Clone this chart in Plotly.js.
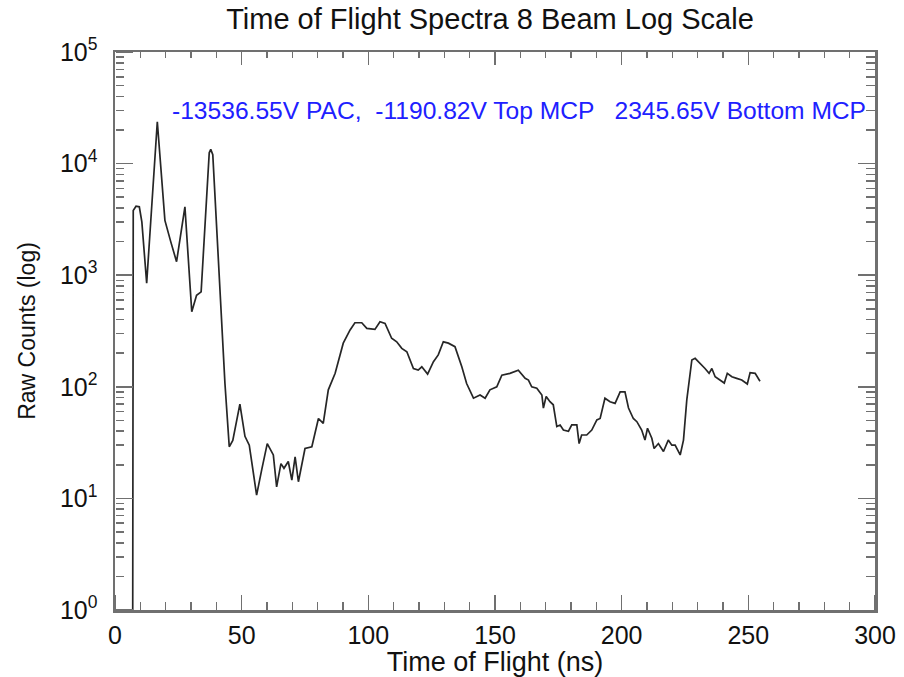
<!DOCTYPE html>
<html>
<head>
<meta charset="utf-8">
<script src="https://cdn.plot.ly/plotly-3.0.1.min.js"></script>
<style>html,body{margin:0;padding:0;background:#fff;}#chart{width:904px;height:677px;}</style>
</head>
<body>
<div id="chart"></div>
<script>
// Time of flight (ns)
const tof = [7.0, 7.2, 8.3, 9.6, 10.6, 12.5, 16.7, 19.7, 22.0, 24.3, 27.6, 30.3, 32.2, 34.0, 37.2, 37.8, 38.6, 42.1, 43.4, 45.1,
  46.5, 49.3, 51.3, 53.0, 55.9, 57.9, 60.1, 62.5, 63.8, 65.5, 66.7, 68.4, 69.8, 71.1, 72.4, 75.0, 77.7, 80.3, 82.2, 84.2,
  86.9, 90.1, 92.8, 94.7, 97.4, 99.4, 102.6, 104.6, 106.6, 109.2, 111.2, 113.2, 115.2, 117.8, 119.7, 121.1, 123.4, 125.7, 127.6, 129.6,
  131.6, 134.2, 136.9, 138.8, 141.5, 144.1, 146.1, 148.0, 150.7, 152.7, 155.9, 159.2, 161.9, 163.2, 164.5, 166.5, 168.5, 169.1, 170.2, 171.7,
  173.0, 174.4, 175.7, 177.0, 179.0, 180.3, 182.3, 183.2, 184.2, 186.2, 188.2, 190.2, 191.5, 193.4, 195.4, 197.4, 199.4, 201.3, 202.7, 204.6,
  206.0, 207.9, 209.2, 210.2, 211.9, 212.8, 214.5, 216.5, 218.4, 219.8, 221.1, 223.1, 224.4, 225.7, 227.7, 229.0, 231.0, 232.9, 234.5, 235.6,
  236.9, 238.9, 240.5, 241.7, 243.5, 245.4, 247.4, 249.6, 250.7, 252.7, 254.6];
// Raw counts
const counts = [1, 3800, 4150, 4100, 3000, 850, 23700, 3100, 2000, 1320, 4100, 470, 660, 710, 12500, 13400, 12000, 320, 107, 29,
  33, 70, 36, 30, 10.7, 18, 31, 24.5, 12.7, 20.5, 18.6, 21.4, 14.6, 23.6, 14.1, 28, 29, 52, 47, 94,
  132, 246, 323, 375, 375, 334, 327, 383, 370, 272, 253, 221, 206, 146, 141, 151, 130, 168, 193, 253,
  246, 229, 151, 107, 79, 84.5, 79, 94, 100, 127, 132, 141, 119, 115, 100, 97, 84.5, 64.5, 82, 73.5,
  69, 44, 45.5, 41, 40, 45.5, 45.5, 31, 37, 37, 41, 50.5, 52, 79, 73.5, 71, 90, 90, 64.5, 52,
  48.7, 41, 33.3, 42.5, 34.6, 28, 31, 26.3, 33.3, 30, 30, 24.5, 33.3, 76, 174, 180, 163, 146, 132, 146,
  123, 115, 108, 132, 123, 119, 115, 106, 134, 132, 112];

const xRange = [0, 300];
const yDecades = [0, 1, 2, 3, 4, 5];
const yTickVals = yDecades.map(d => Math.pow(10, d));
const yTickText = yDecades.map(d => '10<sup>' + d + '</sup>');
const titleText = 'Time of Flight Spectra 8 Beam Log Scale';
const noteText = '-13536.55V PAC,  -1190.82V Top MCP   2345.65V Bottom MCP';
const xTitle = 'Time of Flight (ns)';
const yTitle = 'Raw Counts (log)';

// minor tick positions on the log axis (2..9 within each decade)
const yMinorVals = [];
yDecades.slice(0, -1).forEach(d => { for (let m = 2; m <= 9; m++) yMinorVals.push(m * Math.pow(10, d)); });

const font = 'Liberation Sans, Arial, Helvetica, sans-serif';
const axisColor = '#707070';
const txtColor = '#111';

const base = {x: tof, y: counts, type: 'scatter', mode: 'lines', hoverinfo: 'skip', showlegend: false};
const traces = [Object.assign({}, base, {line: {color: '#262626', width: 1.7}})];
for (let i = 2; i <= 5; i++) {
  traces.push(Object.assign({}, base, {xaxis: 'x' + i, yaxis: 'y' + i, opacity: 0, line: {width: 0}}));
}

const commonX = {range: xRange, showgrid: false, zeroline: false, tickcolor: axisColor, tickwidth: 1.5, showticklabels: false, overlaying: 'x', tick0: 0};
const commonY = {type: 'log', range: [0, 5], showgrid: false, zeroline: false, tickcolor: axisColor, tickwidth: 1.5, showticklabels: false, overlaying: 'y', tickmode: 'array'};

const layout = {
  width: 904, height: 677,
  margin: {l: 115, r: 29, t: 52, b: 67},
  paper_bgcolor: '#fff', plot_bgcolor: '#fff',
  showlegend: false,
  font: {family: font, color: txtColor},
  title: {text: titleText, x: 0.542, xanchor: 'center', y: 0.972, yanchor: 'middle',
          font: {family: font, size: 29, color: txtColor}},
  xaxis: {
    range: xRange, dtick: 50, tick0: 0, ticks: '', showgrid: false, zeroline: false,
    showline: true, linecolor: axisColor, linewidth: 2.5,
    tickfont: {family: font, size: 25, color: txtColor}, ticklabelstandoff: 1,
    title: {text: xTitle, font: {family: font, size: 27, color: txtColor}, standoff: 0}
  },
  // top side, major
  xaxis2: Object.assign({}, commonX, {side: 'top', anchor: 'y', dtick: 50, ticks: 'inside', ticklen: 13,
    showline: true, linecolor: axisColor, linewidth: 2.5}),
  // bottom edge, major (ticks pointing up into the plot)
  xaxis3: Object.assign({}, commonX, {side: 'top', anchor: 'free', position: 0, dtick: 50, ticks: 'outside', ticklen: 15}),
  // top side, minor
  xaxis4: Object.assign({}, commonX, {side: 'top', anchor: 'y', dtick: 10, ticks: 'inside', ticklen: 6}),
  // bottom edge, minor
  xaxis5: Object.assign({}, commonX, {side: 'top', anchor: 'free', position: 0, dtick: 10, ticks: 'outside', ticklen: 8}),
  yaxis: {
    type: 'log', range: [0, 5], tickmode: 'array', tickvals: yTickVals, ticktext: yTickText, ticks: '',
    showgrid: false, zeroline: false, showline: true, linecolor: axisColor, linewidth: 2.5,
    tickfont: {family: font, size: 25, color: txtColor}, ticklabelstandoff: 10,
    title: {text: yTitle, font: {family: font, size: 23, color: txtColor}, standoff: 18}
  },
  // right side, major
  yaxis2: Object.assign({}, commonY, {side: 'right', anchor: 'x', tickvals: yTickVals, ticks: 'inside', ticklen: 17,
    showline: true, linecolor: axisColor, linewidth: 2.5}),
  // left edge, major (ticks pointing right into the plot)
  yaxis3: Object.assign({}, commonY, {side: 'right', anchor: 'free', position: 0, tickvals: yTickVals, ticks: 'outside', ticklen: 17}),
  // right side, minor
  yaxis4: Object.assign({}, commonY, {side: 'right', anchor: 'x', tickvals: yMinorVals, ticks: 'inside', ticklen: 9}),
  // left edge, minor
  yaxis5: Object.assign({}, commonY, {side: 'right', anchor: 'free', position: 0, tickvals: yMinorVals, ticks: 'outside', ticklen: 8}),
  annotations: [{
    text: noteText, xref: 'paper', yref: 'paper', x: 0.072, xanchor: 'left', y: 0.896, yanchor: 'middle',
    showarrow: false, font: {family: font, size: 24.6, color: '#2020ff'}
  }]
};

Plotly.newPlot('chart', traces, layout, {displayModeBar: false, staticPlot: true});
</script>
</body>
</html>
